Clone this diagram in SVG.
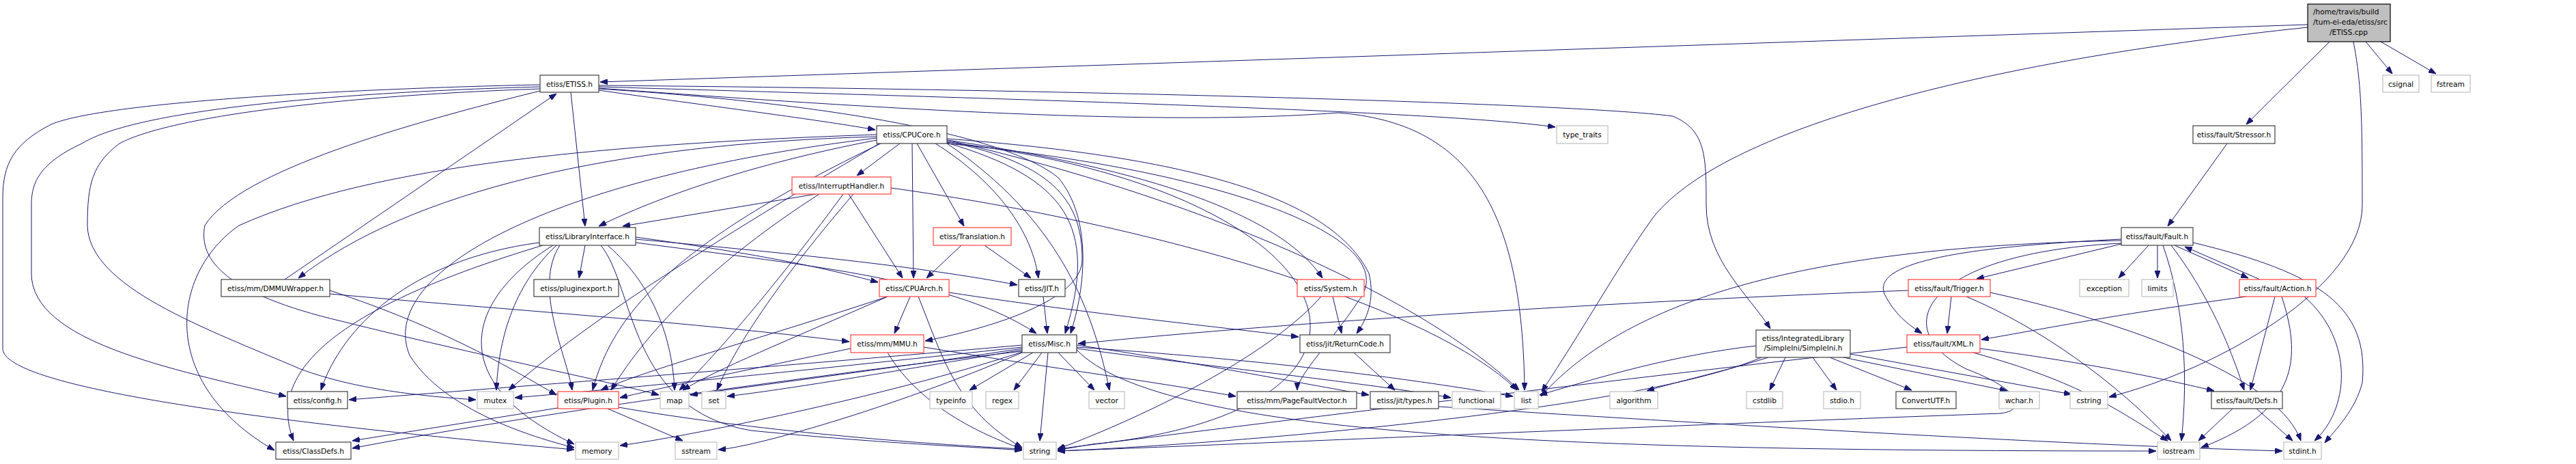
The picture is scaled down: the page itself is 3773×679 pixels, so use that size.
<svg xmlns="http://www.w3.org/2000/svg" width="3773" height="679" viewBox="0 0 3773 679">
<defs>
<marker id="a" viewBox="0 0 11 8" refX="11" refY="4" markerWidth="11" markerHeight="8" markerUnits="userSpaceOnUse" orient="auto"><path d="M0,0 L11,4 L0,8 z" fill="#191970" stroke="#191970"/></marker>
<style>
text{font-family:"DejaVu Sans","Liberation Sans",sans-serif;font-size:10.6px;fill:#000}
.n rect{fill:#fff;stroke:#404040;stroke-width:1.2}
.r rect{fill:#fff;stroke:#ff3f3f;stroke-width:1.2}
.g rect{fill:#fff;stroke:#bfbfbf;stroke-width:1.2}
.root rect{fill:#bfbfbf;stroke:#000;stroke-width:1.2}
.c{text-anchor:middle}
#edges path{fill:none;stroke:#191970;stroke-width:1;marker-end:url(#a)}
</style>
</defs>
<rect width="3773" height="679" fill="#fff"/>
<g id="edges">
<path d="M3380,36 L879,120"/>
<path d="M3380,40 C2900,90 2520,190 2420,320 C2370,390 2320,480 2258,573"/>
<path d="M3412,61 L3290,182"/>
<path d="M3465,61 L3504,108"/>
<path d="M3487,61 L3568,108"/>
<path d="M3447,61 C3458,120 3460,160 3460,300 C3460,420 3250,540 3089,581"/>
<path d="M877,132 C1000,150 1200,175 1282,190"/>
<path d="M836,135 L857,331"/>
<path d="M877,127 C1300,140 2100,160 2278,186"/>
<path d="M877,125 C1500,130 2300,150 2450,170 C2499,190 2499,230 2499,300 C2499,380 2560,430 2593,481"/>
<path d="M877,130 C1200,150 1470,195 1550,260 C1600,320 1590,420 1568,488"/>
<path d="M877,129 C1300,160 1700,185 1960,165 C2150,180 2230,300 2233,571"/>
<path d="M791,124 C500,130 150,150 75,182 C20,210 4,240 4,290 L4,510 C4,560 300,610 841,658"/>
<path d="M791,127 C500,135 200,160 120,210 C55,240 46,270 46,300 L46,400 C46,500 250,540 419,580"/>
<path d="M791,130 C500,140 250,170 175,210 C135,240 128,270 128,330 C130,420 300,480 440,540 C520,570 620,580 697,585"/>
<path d="M791,133 C600,180 350,250 300,330 C290,380 330,430 500,470 C700,520 900,560 965,578"/>
<path d="M1318,210 L1255,257"/>
<path d="M1284,205 C1100,240 960,290 877,331"/>
<path d="M1195,284 L912,331"/>
<path d="M1343,210 L1412,331"/>
<path d="M1336,210 L1338,407"/>
<path d="M1243,284 L1322,407"/>
<path d="M1408,359 L1357,407"/>
<path d="M931,347 C1100,370 1200,390 1286,413"/>
<path d="M1442,359 L1510,407"/>
<path d="M1370,210 C1450,260 1510,330 1521,407"/>
<path d="M931,350 C1150,370 1350,390 1490,417"/>
<path d="M1387,205 C1700,250 1880,320 1937,407"/>
<path d="M1284,200 C900,210 600,280 437,407"/>
<path d="M857,359 L848,407"/>
<path d="M417,409 L815,137"/>
<path d="M3262,210 L3175,331"/>
<path d="M3107,357 L2895,408"/>
<path d="M3147,359 L3103,407"/>
<path d="M3160,359 L3160,407"/>
<path d="M3185,359 L3293,407"/>
<path d="M3310,409 L3200,361"/>
<path d="M1333,434 L1310,488"/>
<path d="M1387,207 C1550,240 1585,300 1585,380 C1585,440 1450,480 1355,499"/>
<path d="M483,430 C700,450 1000,470 1244,500"/>
<path d="M931,355 C1200,390 1400,410 1518,488"/>
<path d="M1528,434 L1534,488"/>
<path d="M1387,209 C1560,260 1610,330 1560,488"/>
<path d="M2795,425 C2400,440 1900,470 1579,503"/>
<path d="M1952,434 L1965,488"/>
<path d="M1387,203 C1750,230 1950,290 2005,400 C2015,440 2000,470 1987,488"/>
<path d="M1390,428 C1600,460 1800,480 1902,493"/>
<path d="M1983,516 L2043,571"/>
<path d="M1513,516 L1420,571"/>
<path d="M1526,516 L1485,571"/>
<path d="M1550,516 L1603,571"/>
<path d="M1535,516 L1523,645"/>
<path d="M1577,510 C1800,540 2000,560 2125,582"/>
<path d="M1577,508 C1900,530 2100,560 2216,580"/>
<path d="M1577,505 C1750,530 1900,560 2005,578"/>
<path d="M1497,505 C1100,540 700,570 511,585"/>
<path d="M1497,508 C1200,540 900,570 754,582"/>
<path d="M1497,510 C1300,540 1100,565 1011,578"/>
<path d="M1497,512 C1300,545 1150,570 1065,580"/>
<path d="M1497,514 C1100,560 700,620 516,656"/>
<path d="M1497,515 C1300,580 1000,640 908,652"/>
<path d="M1497,516 C1300,600 1100,655 1052,658"/>
<path d="M1577,512 C1700,640 2300,660 3158,660"/>
<path d="M817,597 L516,645"/>
<path d="M890,598 L1000,645"/>
<path d="M906,596 C1100,630 1350,650 1497,657"/>
<path d="M820,359 C780,420 830,520 838,571"/>
<path d="M815,359 C750,420 730,500 727,571"/>
<path d="M890,359 C960,420 985,500 988,571"/>
<path d="M790,355 C600,380 500,480 470,571"/>
<path d="M795,359 C560,430 380,520 430,645"/>
<path d="M810,359 C680,440 650,560 841,650"/>
<path d="M880,359 C930,420 920,600 1100,630 C1300,650 1450,655 1497,659"/>
<path d="M1290,210 C1000,350 900,450 868,571"/>
<path d="M1300,434 C1100,500 950,540 880,571"/>
<path d="M1200,284 C1050,380 950,480 895,571"/>
<path d="M483,425 C650,480 750,540 815,578"/>
<path d="M1246,510 C1100,540 980,565 908,582"/>
<path d="M1288,210 C1000,380 850,480 745,571"/>
<path d="M1284,197 C900,210 550,240 350,330 C250,400 230,560 402,659"/>
<path d="M1284,202 C800,260 550,400 600,520 C650,600 780,640 841,655"/>
<path d="M1387,210 C1550,320 1600,450 1625,571"/>
<path d="M1387,205 C1800,300 2100,450 2225,571"/>
<path d="M1387,208 C2000,280 2100,600 1600,650 C1570,655 1555,658 1549,659"/>
<path d="M1235,284 C1150,400 1050,520 995,571"/>
<path d="M1250,284 C1150,400 1080,500 1050,571"/>
<path d="M1305,275 C1700,330 2100,450 2222,571"/>
<path d="M1345,434 C1380,520 1400,600 1497,655"/>
<path d="M1300,434 C1150,500 1050,540 1000,571"/>
<path d="M1353,508 C1550,540 1700,560 1810,580"/>
<path d="M1387,210 C1800,250 2060,350 1990,440 C1950,500 1900,550 1900,571"/>
<path d="M1300,516 C1350,600 1450,640 1497,657"/>
<path d="M1935,434 C1850,530 1650,620 1549,657"/>
<path d="M2107,595 C2500,620 3000,650 3343,660"/>
<path d="M2590,523 C2520,545 2450,560 2412,572"/>
<path d="M2615,523 L2592,571"/>
<path d="M2655,523 L2690,571"/>
<path d="M2680,523 L2800,571"/>
<path d="M2700,523 L2940,572"/>
<path d="M2710,518 L3034,577"/>
<path d="M2572,506 C2450,520 2350,550 2255,578"/>
<path d="M2580,523 C2400,600 1800,650 1549,660"/>
<path d="M3168,359 C3200,450 3205,550 3195,645"/>
<path d="M3180,359 C3250,450 3280,550 3287,571"/>
<path d="M3212,355 C3400,400 3470,450 3460,560 C3450,600 3420,630 3405,648"/>
<path d="M3107,350 C2900,360 2740,380 2760,430 C2775,460 2795,475 2815,488"/>
<path d="M3107,356 C2820,370 2760,480 2880,540 C2960,570 2970,600 2930,605 C2500,620 1700,655 1549,660"/>
<path d="M3107,352 C2700,360 2400,420 2257,580"/>
<path d="M2858,434 L2852,488"/>
<path d="M2880,434 C2990,480 3100,560 3180,645"/>
<path d="M2915,428 C3150,480 3340,560 3370,645"/>
<path d="M3290,434 C3100,460 3000,480 2902,497"/>
<path d="M3332,434 L3296,571"/>
<path d="M3342,434 C3370,520 3370,600 3224,655"/>
<path d="M3375,434 C3450,500 3440,600 3390,645"/>
<path d="M2900,510 C3050,530 3150,550 3243,572"/>
<path d="M2793,508 C2500,540 2000,600 1549,657"/>
<path d="M2890,516 C3050,560 3100,600 3175,645"/>
<path d="M3270,598 L3220,645"/>
<path d="M3305,598 L3358,645"/>
</g>
<g id="n_root" class="root"><rect x="3380" y="6" width="121" height="55"/><text x="3388" y="21">/home/travis/build</text><text x="3388" y="36">/tum-ei-eda/etiss/src</text><text class="c" x="3440" y="51">/ETISS.cpp</text></g>
<g id="n_etissh" class="n"><rect x="791" y="110" width="86" height="25"/><text class="c" x="834" y="126.5">etiss/ETISS.h</text></g>
<g id="n_csignal" class="g"><rect x="3490" y="110" width="53" height="25"/><text class="c" x="3516.5" y="126.5">csignal</text></g>
<g id="n_fstream" class="g"><rect x="3561" y="110" width="57" height="25"/><text class="c" x="3589.5" y="126.5">fstream</text></g>
<g id="n_cpucore" class="n"><rect x="1284" y="184" width="103" height="26"/><text class="c" x="1335.5" y="201">etiss/CPUCore.h</text></g>
<g id="n_typetraits" class="g"><rect x="2280" y="184" width="75" height="26"/><text class="c" x="2317.5" y="201">type_traits</text></g>
<g id="n_stressor" class="n"><rect x="3212" y="184" width="120" height="26"/><text class="c" x="3272" y="201">etiss/fault/Stressor.h</text></g>
<g id="n_interrupt" class="r"><rect x="1160" y="259" width="145" height="25"/><text class="c" x="1232.5" y="275.5">etiss/InterruptHandler.h</text></g>
<g id="n_libif" class="n"><rect x="790" y="333" width="141" height="26"/><text class="c" x="860.5" y="350">etiss/LibraryInterface.h</text></g>
<g id="n_translation" class="r"><rect x="1367" y="333" width="114" height="26"/><text class="c" x="1424" y="350">etiss/Translation.h</text></g>
<g id="n_fault" class="n"><rect x="3107" y="333" width="105" height="26"/><text class="c" x="3159.5" y="350">etiss/fault/Fault.h</text></g>
<g id="n_dmmu" class="n"><rect x="324" y="409" width="159" height="25"/><text class="c" x="403.5" y="425.5">etiss/mm/DMMUWrapper.h</text></g>
<g id="n_pluginexport" class="n"><rect x="782" y="409" width="124" height="25"/><text class="c" x="844" y="425.5">etiss/pluginexport.h</text></g>
<g id="n_cpuarch" class="r"><rect x="1288" y="409" width="102" height="25"/><text class="c" x="1339" y="425.5">etiss/CPUArch.h</text></g>
<g id="n_jit" class="n"><rect x="1492" y="409" width="68" height="25"/><text class="c" x="1526" y="425.5">etiss/JIT.h</text></g>
<g id="n_system" class="r"><rect x="1900" y="409" width="98" height="25"/><text class="c" x="1949" y="425.5">etiss/System.h</text></g>
<g id="n_trigger" class="r"><rect x="2795" y="409" width="120" height="25"/><text class="c" x="2855" y="425.5">etiss/fault/Trigger.h</text></g>
<g id="n_exception" class="g"><rect x="3046" y="409" width="72" height="25"/><text class="c" x="3082" y="425.5">exception</text></g>
<g id="n_limits" class="g"><rect x="3137" y="409" width="46" height="25"/><text class="c" x="3160" y="425.5">limits</text></g>
<g id="n_action" class="r"><rect x="3280" y="409" width="112" height="25"/><text class="c" x="3336" y="425.5">etiss/fault/Action.h</text></g>
<g id="n_mmu" class="r"><rect x="1246" y="490" width="107" height="26"/><text class="c" x="1299.5" y="507">etiss/mm/MMU.h</text></g>
<g id="n_misc" class="n"><rect x="1497" y="490" width="80" height="26"/><text class="c" x="1537" y="507">etiss/Misc.h</text></g>
<g id="n_returncode" class="n"><rect x="1904" y="490" width="132" height="26"/><text class="c" x="1970" y="507">etiss/jit/ReturnCode.h</text></g>
<g id="n_simpleini" class="n"><rect x="2572" y="483" width="138" height="40"/><text class="c" x="2641" y="499">etiss/IntegratedLibrary</text><text class="c" x="2641" y="513">/SimpleIni/SimpleIni.h</text></g>
<g id="n_xml" class="r"><rect x="2793" y="490" width="107" height="26"/><text class="c" x="2846.5" y="507">etiss/fault/XML.h</text></g>
<g id="n_config" class="n"><rect x="421" y="573" width="88" height="25"/><text class="c" x="465" y="589.5">etiss/config.h</text></g>
<g id="n_mutex" class="g"><rect x="699" y="573" width="53" height="25"/><text class="c" x="725.5" y="589.5">mutex</text></g>
<g id="n_plugin" class="r"><rect x="817" y="573" width="89" height="25"/><text class="c" x="861.5" y="589.5">etiss/Plugin.h</text></g>
<g id="n_map" class="g"><rect x="967" y="573" width="42" height="25"/><text class="c" x="988" y="589.5">map</text></g>
<g id="n_set" class="g"><rect x="1028" y="573" width="35" height="25"/><text class="c" x="1045.5" y="589.5">set</text></g>
<g id="n_typeinfo" class="g"><rect x="1362" y="573" width="62" height="25"/><text class="c" x="1393" y="589.5">typeinfo</text></g>
<g id="n_regex" class="g"><rect x="1444" y="573" width="48" height="25"/><text class="c" x="1468" y="589.5">regex</text></g>
<g id="n_vector" class="g"><rect x="1595" y="573" width="52" height="25"/><text class="c" x="1621" y="589.5">vector</text></g>
<g id="n_pfv" class="n"><rect x="1812" y="573" width="175" height="25"/><text class="c" x="1899.5" y="589.5">etiss/mm/PageFaultVector.h</text></g>
<g id="n_types" class="n"><rect x="2007" y="573" width="100" height="25"/><text class="c" x="2057" y="589.5">etiss/jit/types.h</text></g>
<g id="n_functional" class="g"><rect x="2127" y="573" width="71" height="25"/><text class="c" x="2162.5" y="589.5">functional</text></g>
<g id="n_list" class="g"><rect x="2218" y="573" width="35" height="25"/><text class="c" x="2235.5" y="589.5">list</text></g>
<g id="n_algorithm" class="g"><rect x="2358" y="573" width="70" height="25"/><text class="c" x="2393" y="589.5">algorithm</text></g>
<g id="n_cstdlib" class="g"><rect x="2558" y="573" width="53" height="25"/><text class="c" x="2584.5" y="589.5">cstdlib</text></g>
<g id="n_stdio" class="g"><rect x="2671" y="573" width="54" height="25"/><text class="c" x="2698" y="589.5">stdio.h</text></g>
<g id="n_convertutf" class="n"><rect x="2777" y="573" width="88" height="25"/><text class="c" x="2821" y="589.5">ConvertUTF.h</text></g>
<g id="n_wchar" class="g"><rect x="2928" y="573" width="59" height="25"/><text class="c" x="2957.5" y="589.5">wchar.h</text></g>
<g id="n_cstring" class="g"><rect x="3032" y="573" width="55" height="25"/><text class="c" x="3059.5" y="589.5">cstring</text></g>
<g id="n_defs" class="n"><rect x="3239" y="573" width="104" height="25"/><text class="c" x="3291" y="589.5">etiss/fault/Defs.h</text></g>
<g id="n_classdefs" class="n"><rect x="404" y="647" width="110" height="25"/><text class="c" x="459" y="663.5">etiss/ClassDefs.h</text></g>
<g id="n_memory" class="g"><rect x="843" y="647" width="63" height="25"/><text class="c" x="874.5" y="663.5">memory</text></g>
<g id="n_sstream" class="g"><rect x="989" y="647" width="61" height="25"/><text class="c" x="1019.5" y="663.5">sstream</text></g>
<g id="n_string" class="g"><rect x="1499" y="647" width="48" height="25"/><text class="c" x="1523" y="663.5">string</text></g>
<g id="n_iostream" class="g"><rect x="3160" y="647" width="62" height="25"/><text class="c" x="3191" y="663.5">iostream</text></g>
<g id="n_stdint" class="g"><rect x="3345" y="647" width="55" height="25"/><text class="c" x="3372.5" y="663.5">stdint.h</text></g>
</svg>
